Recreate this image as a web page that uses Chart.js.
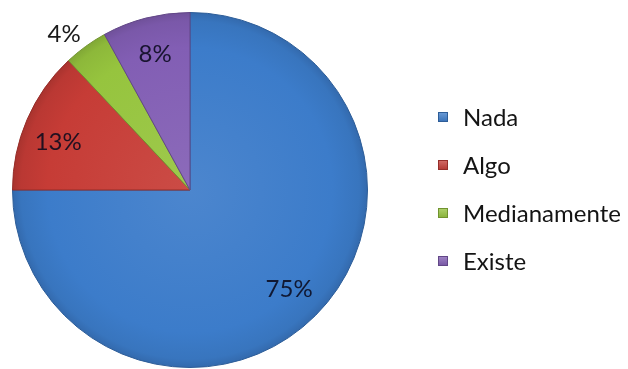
<!DOCTYPE html>
<html>
<head>
<meta charset="utf-8">
<script src="https://cdn.jsdelivr.net/npm/chart.js@4"></script>
<style>
  html, body { margin: 0; padding: 0; background: #fff; }
</style>
</head>
<body>
<canvas id="pie-chart" width="628" height="369"></canvas>
<script>
var categories = ['Nada', 'Algo', 'Medianamente', 'Existe'];
var percents = [75, 13, 4, 8];
var sliceColors = [[60, 124, 202], [198, 60, 54], [150, 196, 62], [130, 94, 180]];

function rgb(c, k) {
    // k > 0 lightens, k < 0 darkens
    var out = c.map(function (v) {
        return Math.round(k >= 0 ? v + (255 - v) * k : v * (1 + k));
    });
    return 'rgb(' + out.join(',') + ')';
}

function sliceFill(context) {
    var chart = context.chart;
    var area = chart.chartArea;
    var c = sliceColors[context.dataIndex];
    if (!area) return rgb(c, 0);
    var cx = (area.left + area.right) / 2;
    var cy = (area.top + area.bottom) / 2;
    var r = Math.min(area.right - area.left, area.bottom - area.top) / 2;
    var g = chart.ctx.createRadialGradient(cx, cy, 0, cx, cy, r);
    g.addColorStop(0, rgb(c, 0.08));
    g.addColorStop(0.8, rgb(c, 0));
    g.addColorStop(0.95, rgb(c, -0.06));
    g.addColorStop(1, rgb(c, -0.15));
    return g;
}

var pieLabels = {
    id: 'pieLabels',
    afterDatasetsDraw: function (chart) {
        var ctx = chart.ctx;
        var arcs = chart.getDatasetMeta(0).data;
        ctx.save();
        ctx.font = '24px Lato';
        ctx.textAlign = 'center';
        ctx.textBaseline = 'middle';
        arcs.forEach(function (arc, i) {
            var mid = (arc.startAngle + arc.endAngle) / 2;
            var outside = percents[i] < 5;
            var r = arc.outerRadius * (outside ? 1.13 : 0.79);
            // small nudges, roughly where the spreadsheet placed them
            if (percents[i] > 10 && percents[i] < 20) mid -= 0.06;
            if (outside) mid -= 0.05;
            ctx.fillStyle = outside ? '#1a1a1a' : 'rgba(10,10,30,0.88)';
            ctx.fillText(percents[i] + '%', arc.x + Math.cos(mid) * r, arc.y + Math.sin(mid) * r);
        });
        ctx.restore();
    }
};

var sideLegend = {
    id: 'sideLegend',
    afterDraw: function (chart) {
        var ctx = chart.ctx;
        ctx.save();
        ctx.font = '24px Lato';
        ctx.textBaseline = 'middle';
        categories.forEach(function (name, i) {
            var y = 117 + i * 48;
            var c = sliceColors[i];
            var g = ctx.createLinearGradient(438, y - 5, 438, y + 5);
            g.addColorStop(0, rgb(c, 0.25));
            g.addColorStop(1, rgb(c, -0.1));
            ctx.fillStyle = g;
            ctx.fillRect(438, y - 5, 10, 10);
            ctx.strokeStyle = rgb(c, -0.25);
            ctx.lineWidth = 1;
            ctx.strokeRect(438.5, y - 4.5, 9, 9);
            ctx.fillStyle = '#141414';
            ctx.fillText(name, 463, y + 1);
        });
        ctx.restore();
    }
};

new Chart(document.getElementById('pie-chart'), {
    type: 'pie',
    data: {
        labels: categories,
        datasets: [{
            data: percents,
            backgroundColor: sliceFill,
            borderColor: sliceColors.map(function (c) { return rgb(c, -0.25); }),
            borderWidth: 1
        }]
    },
    options: {
        responsive: false,
        animation: false,
        layout: { padding: { left: 12, top: 12, right: 260, bottom: 1 } },
        plugins: {
            legend: { display: false },
            tooltip: { enabled: false }
        }
    },
    plugins: [pieLabels, sideLegend]
});
</script>
</body>
</html>
